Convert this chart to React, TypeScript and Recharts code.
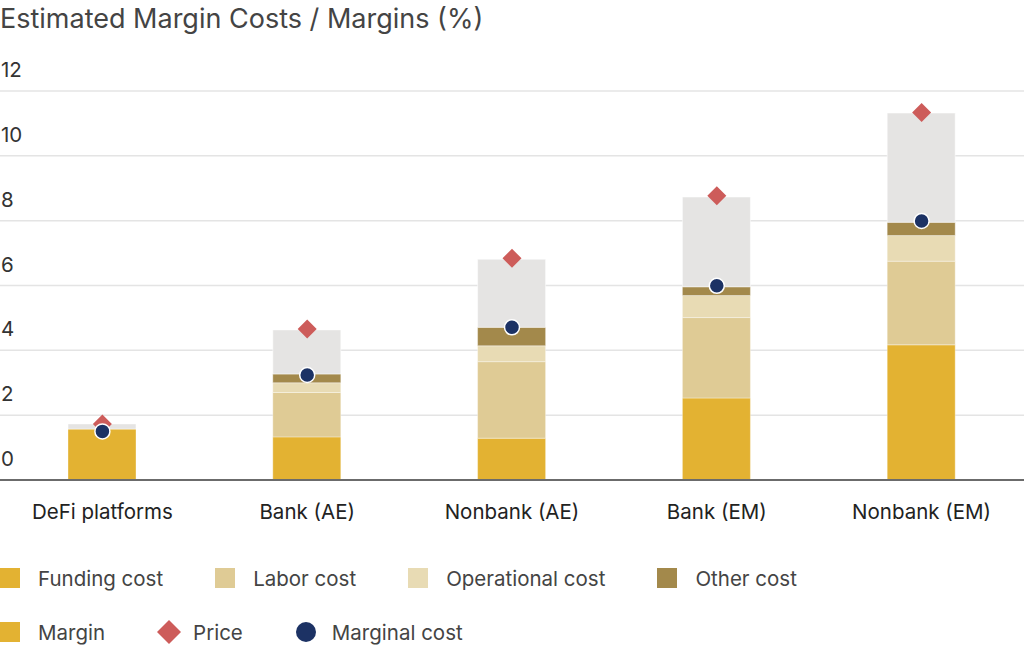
import React from "react";
import {
  ComposedChart,
  Bar,
  Scatter,
  XAxis,
  YAxis,
  CartesianGrid,
} from "recharts";

const categories = [
  "DeFi platforms",
  "Bank (AE)",
  "Nonbank (AE)",
  "Bank (EM)",
  "Nonbank (EM)",
];
const fundingCost = [1.57, 1.33, 1.29, 2.53, 4.17];
const laborCost = [0, 1.37, 2.36, 2.48, 2.58];
const operationalCost = [0, 0.3, 0.49, 0.68, 0.79];
const otherCost = [0, 0.27, 0.57, 0.27, 0.41];
const margin = [0.16, 1.36, 2.1, 2.77, 3.37];
const price = [1.73, 4.66, 6.84, 8.77, 11.34];
const marginalCost = [1.5, 3.24, 4.71, 5.99, 7.99];
const yTicks = [0, 2, 4, 6, 8, 10, 12];

const data = categories.map((name, i) => ({
  name,
  funding: fundingCost[i],
  labor: laborCost[i],
  operational: operationalCost[i],
  other: otherCost[i],
  margin: margin[i],
  price: price[i],
  marginalCost: marginalCost[i],
}));

const COLORS = {
  funding: "#E3B232",
  labor: "#DFCB95",
  operational: "#E8DBB4",
  other: "#A3894B",
  margin: "#E5E4E3",
  price: "#CD5C5A",
  marginalCost: "#1C3264",
};

const FONT = "Inter, 'Noto Sans', sans-serif";

const Diamond = (props: any) => {
  const { cx, cy } = props;
  if (cx == null || cy == null) return null;
  const r = 9.5;
  return (
    <path
      d={`M${cx},${cy - r}L${cx + r},${cy}L${cx},${cy + r}L${cx - r},${cy}Z`}
      fill={COLORS.price}
    />
  );
};

const Dot = (props: any) => {
  const { cx, cy } = props;
  if (cx == null || cy == null) return null;
  return (
    <circle
      cx={cx}
      cy={cy}
      r={7.5}
      fill={COLORS.marginalCost}
      stroke="#ffffff"
      strokeWidth={1.5}
    />
  );
};

const renderXTick = (props: any) => {
  const { x, y, payload } = props;
  return (
    <text
      x={x}
      y={y + 39}
      textAnchor="middle"
      fill="#222"
      fontSize={20.5}
      fontFamily={FONT}
    >
      {payload.value}
    </text>
  );
};

const renderYTick = (props: any) => {
  const { y, payload } = props;
  return (
    <text
      x={1}
      y={y - 14}
      textAnchor="start"
      fill="#333"
      fontSize={20.5}
      fontFamily={FONT}
    >
      {payload.value}
    </text>
  );
};

const legendRows = [
  [
    { label: "Funding cost", color: COLORS.funding, kind: "square" },
    { label: "Labor cost", color: COLORS.labor, kind: "square" },
    { label: "Operational cost", color: COLORS.operational, kind: "square" },
    { label: "Other cost", color: COLORS.other, kind: "square" },
  ],
  [
    { label: "Margin", color: COLORS.funding, kind: "square" },
    { label: "Price", color: COLORS.price, kind: "diamond" },
    { label: "Marginal cost", color: COLORS.marginalCost, kind: "circle" },
  ],
];

function LegendIcon({ kind, color }: { kind: string; color: string }) {
  if (kind === "diamond") {
    return (
      <svg width={24} height={24} style={{ marginRight: 12 }}>
        <path d="M12,0L24,12L12,24L0,12Z" fill={color} />
      </svg>
    );
  }
  if (kind === "circle") {
    return (
      <svg width={22} height={22} style={{ marginRight: 15 }}>
        <circle cx={11} cy={11} r={10} fill={color} />
      </svg>
    );
  }
  return (
    <div
      style={{ width: 20, height: 20, background: color, marginRight: 18 }}
    />
  );
}

export default function App() {
  return (
    <div
      style={{
        position: "absolute",
        left: 0,
        top: 0,
        width: 1024,
        height: 646,
        background: "#fff",
        fontFamily: FONT,
      }}
    >
      <ComposedChart
        width={1024}
        height={646}
        data={data}
        margin={{ top: 91, right: 0, bottom: 0, left: 0 }}
      >
        <CartesianGrid vertical={false} stroke="#e4e4e4" strokeWidth={1.5} />
        <XAxis
          dataKey="name"
          height={166}
          tick={renderXTick}
          tickLine={false}
          tickSize={0}
          tickMargin={0}
          axisLine={{ stroke: "#6b6b6b", strokeWidth: 2 }}
          interval={0}
        />
        <YAxis
          width={40}
          mirror
          domain={[0, 12]}
          ticks={yTicks}
          tick={renderYTick}
          axisLine={false}
          tickLine={false}
          interval={0}
        />
        <Bar dataKey="funding" stackId="a" fill={COLORS.funding} barSize={68} stroke="#ffffff" strokeOpacity={0.35} isAnimationActive={false} />
        <Bar dataKey="labor" stackId="a" fill={COLORS.labor} barSize={68} stroke="#ffffff" strokeOpacity={0.35} isAnimationActive={false} />
        <Bar dataKey="operational" stackId="a" fill={COLORS.operational} barSize={68} stroke="#ffffff" strokeOpacity={0.35} isAnimationActive={false} />
        <Bar dataKey="other" stackId="a" fill={COLORS.other} barSize={68} stroke="#ffffff" strokeOpacity={0.35} isAnimationActive={false} />
        <Bar dataKey="margin" stackId="a" fill={COLORS.margin} barSize={68} stroke="#ffffff" strokeOpacity={0.5} isAnimationActive={false} />
        <Scatter dataKey="price" shape={<Diamond />} isAnimationActive={false} />
        <Scatter dataKey="marginalCost" shape={<Dot />} isAnimationActive={false} />
      </ComposedChart>

      <div
        style={{
          position: "absolute",
          left: 0,
          top: 2,
          fontSize: 27,
          color: "#444",
          lineHeight: "34px",
          whiteSpace: "nowrap",
        }}
      >
        Estimated Margin Costs / Margins (%)
      </div>

      {legendRows.map((row, ri) => (
        <div
          key={ri}
          style={{
            position: "absolute",
            left: 0,
            top: ri === 0 ? 566 : 620,
            height: 24,
            display: "flex",
            alignItems: "center",
          }}
        >
          {row.map((item) => (
            <div
              key={item.label}
              style={{ display: "flex", alignItems: "center", marginRight: 52 }}
            >
              <LegendIcon kind={item.kind} color={item.color} />
              <span
                style={{ fontSize: 20.5, color: "#444", whiteSpace: "nowrap" }}
              >
                {item.label}
              </span>
            </div>
          ))}
        </div>
      ))}
    </div>
  );
}
